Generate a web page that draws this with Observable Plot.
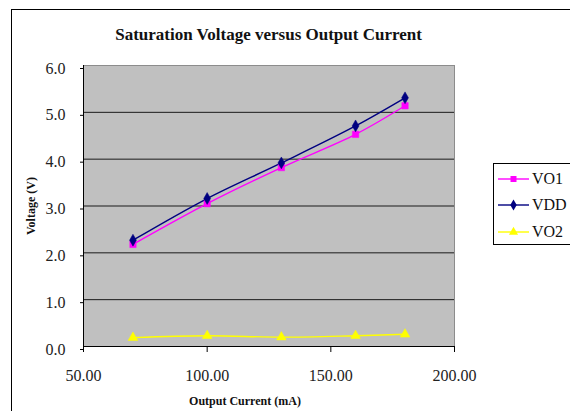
<!DOCTYPE html>
<html>
<head>
<meta charset="utf-8">
<script src="https://cdn.jsdelivr.net/npm/d3@7"></script>
<script src="https://cdn.jsdelivr.net/npm/@observablehq/plot@0.6"></script>
<style>
  html, body { margin: 0; padding: 0; background: #fff; }
  #wrap { position: relative; width: 570px; height: 411px; overflow: hidden; background: #fff;
          font-family: "Liberation Serif", serif; color: #111; }
  #outer { position: absolute; left: 11px; top: 9px; width: 620px; height: 460px; border: 1px solid #000; }
  #chart { position: absolute; left: 0; top: 0; line-height: 0; }
  #chart svg { display: block; }
  #title { position: absolute; left: 0; width: 537px; top: 25px; line-height: 20px; text-align: center;
           font-size: 17px; font-weight: bold; }
  #xtitle { position: absolute; left: 0; width: 490px; top: 393px; line-height: 16px; text-align: center;
            font-size: 12px; font-weight: bold; }
  #ytitle { position: absolute; left: -29px; width: 120px; top: 198px; line-height: 16px; text-align: center;
            font-size: 12px; font-weight: bold; transform: rotate(-90deg); transform-origin: 50% 50%; }
  #legend { position: absolute; left: 493px; top: 163px; width: 100px; height: 80px; border: 1px solid #000;
            background: #fff; }
  .row { position: absolute; left: 4px; height: 20px; display: flex; align-items: center; font-size: 16px; }
  .row svg { margin-right: 2px; }
</style>
</head>
<body>
<div id="wrap">
  <div id="outer"></div>
  <div id="chart"></div>
  <div id="title">Saturation Voltage versus Output Current</div>
  <div id="xtitle">Output Current (mA)</div>
  <div id="ytitle">Voltage (V)</div>
  <div id="legend"></div>
</div>
<script>
// ---- data ----
const current = [70, 100, 130, 160, 180];          // Output Current (mA)
const vo1 = [2.18, 3.05, 3.82, 4.53, 5.14];         // VO1 (V)
const vdd = [2.27, 3.16, 3.92, 4.71, 5.31];         // VDD (V)
const vo2 = [0.19, 0.23, 0.20, 0.23, 0.26];         // VO2 (V)
const seriesNames = ["VO1", "VDD", "VO2"];
const seriesColors = ["#ff00ff", "#000080", "#ffff00"];
const seriesSymbols = ["square", "diamond", "triangle"];
const xTicks = [50, 100, 150, 200];
const yTicks = [0, 1, 2, 3, 4, 5, 6];

const seriesValues = [vo1, vdd, vo2];
const rows = [];
seriesNames.forEach((name, i) => {
  current.forEach((c, j) => rows.push({ series: name, current: c, voltage: seriesValues[i][j] }));
});

const chart = Plot.plot({
  width: 500,
  height: 411,
  marginLeft: 83,
  marginRight: 46,
  marginTop: 65,
  marginBottom: 65,
  style: { fontFamily: "'Liberation Serif', serif", fontSize: "16px", color: "#111", background: "transparent" },
  x: { domain: [50, 200], ticks: xTicks },
  y: { domain: [0, 6], ticks: yTicks },
  color: { domain: seriesNames, range: seriesColors },
  symbol: { domain: seriesNames, range: seriesSymbols },
  marks: [
    Plot.frame({ fill: "#c0c0c0", stroke: "#8c8c8c" }),
    Plot.ruleY(yTicks.filter(d => d > 0 && d < 6), { stroke: "#1a1a1a", strokeWidth: 1 }),
    Plot.ruleY([0], { stroke: "#000" }),
    Plot.ruleX([50], { stroke: "#000" }),
    Plot.axisY({ ticks: yTicks, tickSize: 3, tickPadding: 15, tickFormat: d3.format(".1f"),
                 label: null, stroke: "#000", fontSize: 16, dy: 3, fill: "#222" }),
    Plot.axisX({ ticks: xTicks, tickSize: 6, tickPadding: 17, tickFormat: d3.format(".2f"),
                 label: null, stroke: "#000", fontSize: 16, fill: "#222" }),
    Plot.line(rows, { x: "current", y: "voltage", z: "series", stroke: "series",
                      curve: "catmull-rom", strokeWidth: 1.4 }),
    Plot.dot(rows, { x: "current", y: "voltage", symbol: "series", fill: "series",
                     stroke: "series", strokeWidth: 0.5, r: 3.6 })
  ]
});
document.getElementById("chart").appendChild(chart);

// ---- legend ----
const legend = document.getElementById("legend");
const rowTops = [5, 31, 58];
const symbolTypes = { square: d3.symbolSquare, diamond: d3.symbolDiamond, triangle: d3.symbolTriangle };
seriesNames.forEach((name, i) => {
  const row = document.createElement("div");
  row.className = "row";
  row.style.top = rowTops[i] + "px";
  const sym = d3.symbol(symbolTypes[seriesSymbols[i]], 36)();
  row.innerHTML =
    `<svg width="32" height="12"><line x1="0" x2="31" y1="6" y2="6" stroke="${seriesColors[i]}" stroke-width="1.4"/>` +
    `<path d="${sym}" transform="translate(15.5,6)" fill="${seriesColors[i]}"/></svg><span>${name}</span>`;
  legend.appendChild(row);
});
</script>
</body>
</html>
